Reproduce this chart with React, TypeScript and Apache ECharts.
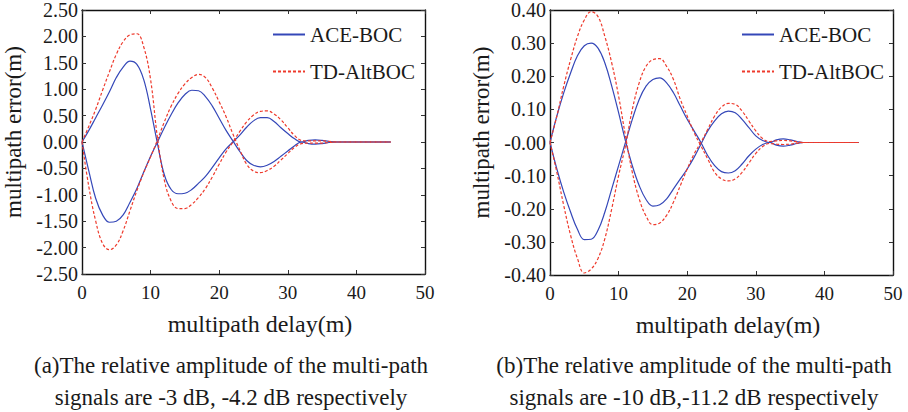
import React, { useEffect, useRef } from "react";
import * as echarts from "echarts";

// multipath delay (m)
const delays = [0, 1, 2, 3, 4, 5, 6, 7, 8, 9, 10, 11, 12, 13, 14, 15, 16, 17, 18, 19, 20, 21, 22, 23, 24, 25, 26, 27, 28, 29, 30, 31, 32, 33, 34, 35, 36, 37, 45];

// (a) -3 dB / -4.2 dB
const aceUpperA = [0, 0.22, 0.46, 0.70, 0.95, 1.22, 1.42, 1.53, 1.47, 1.18, 0.62, -0.03, -0.62, -0.90, -0.98, -0.97, -0.90, -0.78, -0.65, -0.48, -0.30, -0.13, 0.00, 0.13, 0.28, 0.40, 0.46, 0.46, 0.39, 0.27, 0.16, 0.06, 0.00, 0.03, 0.04, 0.03, 0.01, 0, 0];
const aceLowerA = [0, -0.55, -1.07, -1.38, -1.52, -1.50, -1.38, -1.14, -0.88, -0.57, -0.27, 0.0, 0.27, 0.52, 0.74, 0.90, 0.98, 0.97, 0.86, 0.68, 0.45, 0.22, 0.02, -0.18, -0.35, -0.44, -0.47, -0.44, -0.37, -0.27, -0.17, -0.07, 0.0, -0.03, -0.04, -0.03, -0.01, 0, 0];
const tdUpperA = [0, 0.30, 0.62, 0.98, 1.33, 1.66, 1.90, 2.03, 2.05, 1.80, 1.18, 0.08, -0.72, -1.12, -1.26, -1.26, -1.18, -1.05, -0.88, -0.66, -0.42, -0.19, 0.0, 0.20, 0.38, 0.51, 0.58, 0.59, 0.53, 0.42, 0.27, 0.12, 0.03, 0.02, 0.02, 0.02, 0.01, 0, 0];
const tdLowerA = [0, -0.85, -1.5, -1.92, -2.04, -1.95, -1.68, -1.30, -0.92, -0.58, -0.28, 0.04, 0.38, 0.68, 0.92, 1.10, 1.22, 1.28, 1.22, 1.02, 0.76, 0.48, 0.15, -0.15, -0.42, -0.55, -0.58, -0.54, -0.46, -0.34, -0.22, -0.10, -0.03, -0.02, -0.02, -0.02, -0.01, 0, 0];

// (b) -10 dB / -11.2 dB
const aceUpperB = [0, 0.08, 0.15, 0.21, 0.262, 0.292, 0.30, 0.285, 0.24, 0.17, 0.09, 0.005, -0.07, -0.13, -0.172, -0.192, -0.188, -0.17, -0.14, -0.11, -0.08, -0.045, -0.005, 0.035, 0.065, 0.087, 0.095, 0.09, 0.07, 0.045, 0.02, 0.006, 0.0, 0.008, 0.011, 0.008, 0.003, 0, 0];
const aceLowerB = [0, -0.08, -0.15, -0.21, -0.262, -0.293, -0.292, -0.265, -0.21, -0.14, -0.07, 0.0, 0.07, 0.13, 0.17, 0.19, 0.195, 0.18, 0.15, 0.11, 0.07, 0.035, 0.0, -0.04, -0.07, -0.088, -0.092, -0.085, -0.065, -0.04, -0.02, -0.006, 0, -0.008, -0.011, -0.008, -0.003, 0, 0];
const tdUpperB = [0, 0.08, 0.17, 0.25, 0.32, 0.37, 0.395, 0.38, 0.32, 0.24, 0.14, 0.02, -0.09, -0.17, -0.222, -0.248, -0.243, -0.22, -0.18, -0.13, -0.08, -0.035, 0.0, 0.04, 0.08, 0.107, 0.118, 0.115, 0.095, 0.065, 0.035, 0.012, 0.003, 0.005, 0.006, 0.005, 0.002, 0, 0];
const tdLowerB = [0, -0.09, -0.19, -0.28, -0.35, -0.394, -0.382, -0.35, -0.29, -0.20, -0.10, -0.01, 0.10, 0.18, 0.23, 0.25, 0.253, 0.23, 0.19, 0.13, 0.08, 0.03, -0.01, -0.05, -0.09, -0.11, -0.116, -0.11, -0.09, -0.062, -0.033, -0.012, -0.003, -0.005, -0.006, -0.005, -0.002, 0, 0];

const seriesNames = ["ACE-BOC", "TD-AltBOC"];

const xTickLabels = ["0", "10", "20", "30", "40", "50"];
const yTickLabelsA = ["-2.50", "-2.00", "-1.50", "-1.00", "-0.50", "0.00", "0.50", "1.00", "1.50", "2.00", "2.50"];
const yTickLabelsB = ["-0.40", "-0.30", "-0.20", "-0.10", "-0.00", "0.10", "0.20", "0.30", "0.40"];

const xAxisName = "multipath delay(m)";
const yAxisName = "multipath error(m)";
const captionA = ["(a)The relative amplitude of the multi-path", "signals are -3 dB, -4.2 dB respectively"];
const captionB = ["(b)The relative amplitude of the multi-path", "signals are -10 dB,-11.2 dB respectively"];

const FONT = "'Liberation Serif', 'Times New Roman', serif";
const BLUE = "#3447b8";
const RED = "#ee3a2c";
const INK = "#1a1a1a";

const pairs = (ys: number[]) => delays.map((x, i) => [x, ys[i]]);

export default function App() {
  const ref = useRef<HTMLDivElement>(null);
  useEffect(() => {
    if (!ref.current) return;
    const chart = echarts.init(ref.current, undefined, { renderer: "svg" });

    const grids = [
      { left: 82, top: 9.5, width: 343, height: 264.5 },
      { left: 550, top: 9.5, width: 343, height: 265.5 },
    ];
    const yCfg = [
      { min: -2.5, max: 2.5, interval: 0.5, labels: yTickLabelsA },
      { min: -0.4, max: 0.4, interval: 0.1, labels: yTickLabelsB },
    ];

    const xAxes: any[] = [];
    const yAxes: any[] = [];
    grids.forEach((_, g) => {
      xAxes.push({
        type: "value",
        gridIndex: g,
        min: 0,
        max: 50,
        interval: 10,
        position: "bottom",
        name: xAxisName,
        nameLocation: "middle",
        nameGap: 38,
        nameTextStyle: { fontFamily: FONT, fontSize: 24, color: INK, padding: [0, 0, 0, 13] },
        axisLine: { show: true, onZero: false, lineStyle: { color: "#111", width: 1.4 } },
        axisTick: { show: true, inside: true, length: 4, lineStyle: { color: "#333", width: 1 } },
        axisLabel: {
          show: true,
          margin: 9,
          fontFamily: FONT,
          fontSize: 19,
          color: INK,
          formatter: (v: number) => xTickLabels[Math.round(v / 10)] ?? "",
        },
        splitLine: { show: false },
      });
      xAxes.push({
        type: "value",
        gridIndex: g,
        min: 0,
        max: 50,
        interval: 10,
        position: "top",
        axisLine: { show: true, onZero: false, lineStyle: { color: "#111", width: 1.4 } },
        axisTick: { show: true, inside: true, length: 4, lineStyle: { color: "#333", width: 1 } },
        axisLabel: { show: false },
        splitLine: { show: false },
      });
      const yc = yCfg[g];
      yAxes.push({
        type: "value",
        gridIndex: g,
        min: yc.min,
        max: yc.max,
        interval: yc.interval,
        position: "left",
        name: yAxisName,
        nameLocation: "middle",
        nameGap: 57,
        nameTextStyle: { fontFamily: FONT, fontSize: 23, color: INK, padding: [0, 0, 0, 20] },
        axisLine: { show: true, onZero: false, lineStyle: { color: "#111", width: 1.4 } },
        axisTick: { show: true, inside: true, length: 4, lineStyle: { color: "#333", width: 1 } },
        axisLabel: {
          show: true,
          margin: 4,
          fontFamily: FONT,
          fontSize: 20,
          color: INK,
          formatter: (v: number) => yc.labels[Math.round((v - yc.min) / yc.interval)] ?? "",
        },
        splitLine: { show: false },
      });
      yAxes.push({
        type: "value",
        gridIndex: g,
        min: yc.min,
        max: yc.max,
        interval: yc.interval,
        position: "right",
        axisLine: { show: true, onZero: false, lineStyle: { color: "#111", width: 1.4 } },
        axisTick: { show: true, inside: true, length: 4, lineStyle: { color: "#333", width: 1 } },
        axisLabel: { show: false },
        splitLine: { show: false },
      });
    });

    const mk = (name: string, ys: number[], g: number, dashed: boolean) => ({
      type: "line",
      name,
      xAxisIndex: g * 2,
      yAxisIndex: g * 2,
      data: pairs(ys),
      smooth: 0.4,
      symbol: "none",
      lineStyle: dashed
        ? { color: RED, width: 1.2, type: [3, 2] }
        : { color: BLUE, width: 1.2, type: "solid" },
      itemStyle: { color: dashed ? RED : BLUE },
      z: dashed ? 3 : 2,
    });

    const series = [
      mk(seriesNames[0], aceUpperA, 0, false),
      mk(seriesNames[0], aceLowerA, 0, false),
      mk(seriesNames[1], tdUpperA, 0, true),
      mk(seriesNames[1], tdLowerA, 0, true),
      mk(seriesNames[0], aceUpperB, 1, false),
      mk(seriesNames[0], aceLowerB, 1, false),
      mk(seriesNames[1], tdUpperB, 1, true),
      mk(seriesNames[1], tdLowerB, 1, true),
    ];

    const legendCommon = {
      orient: "vertical",
      data: seriesNames,
      itemWidth: 32,
      itemHeight: 12,
      itemGap: 16,
      selectedMode: false,
      itemStyle: { opacity: 0 },
      textStyle: { fontFamily: FONT, fontSize: 21, color: INK },
      padding: 0,
    };

    const caption = (lines: string[], cx: number) =>
      lines.map((t, i) => ({
        type: "text",
        x: cx,
        y: i === 0 ? 365 : 397,
        style: {
          text: t,
          fontFamily: FONT,
          fontSize: 23,
          fill: INK,
          align: "center",
          verticalAlign: "middle",
        },
      }));

    chart.setOption({
      animation: false,
      backgroundColor: "#ffffff",
      grid: grids,
      xAxis: xAxes,
      yAxis: yAxes,
      legend: [
        { ...legendCommon, left: 272, top: 24 },
        { ...legendCommon, left: 741, top: 24 },
      ],
      series,
      graphic: [...caption(captionA, 231), ...caption(captionB, 694)],
    });

    return () => chart.dispose();
  }, []);

  return (
    <div
      ref={ref}
      style={{ position: "absolute", left: 0, top: 0, width: 908, height: 412, background: "#fff" }}
    />
  );
}
